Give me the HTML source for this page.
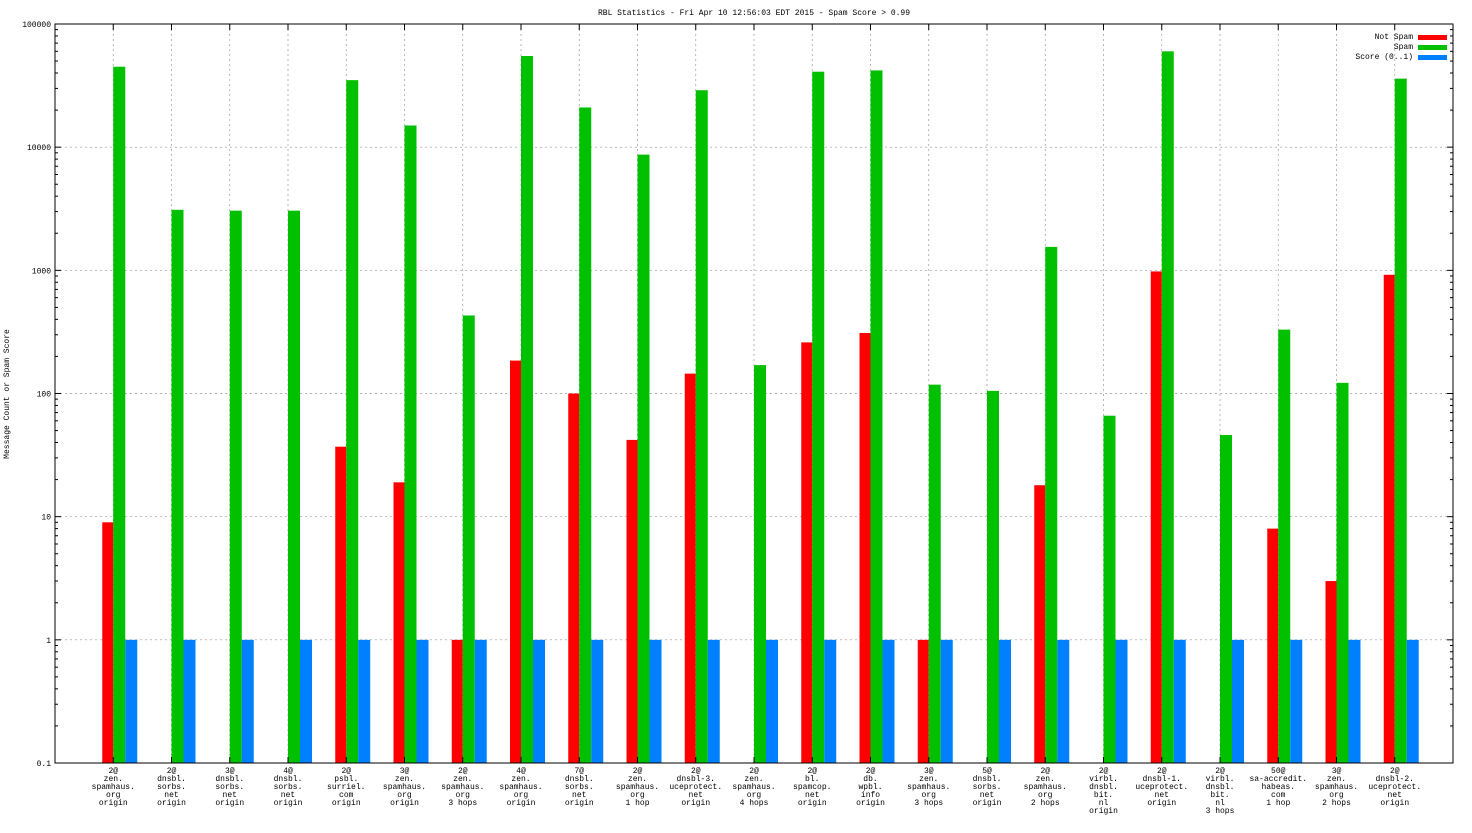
<!DOCTYPE html>
<html><head><meta charset="utf-8"><style>
body{margin:0;background:#fff}
svg text{font-family:"Liberation Mono",monospace;font-size:8px;fill:#000}
</style></head><body>
<svg id="chart" width="1472" height="828" xmlns="http://www.w3.org/2000/svg">
<rect width="1472" height="828" fill="#fff"/>
<text x="754" y="15" text-anchor="middle">RBL Statistics - Fri Apr 10 12:56:03 EDT 2015 - Spam Score &gt; 0.99</text>
<text transform="translate(9,394) rotate(-90)" text-anchor="middle">Message Count or Spam Score</text>
<g id="grid"></g><g id="bars"></g><g id="axes"></g>
<g>
<text x="1413" y="39" text-anchor="end">Not Spam</text><rect x="1418" y="35" width="29" height="5" fill="#ff0000"/>
<text x="1413" y="49" text-anchor="end">Spam</text><rect x="1418" y="45" width="29" height="5" fill="#00c000"/>
<text x="1413" y="59" text-anchor="end">Score (0..1)</text><rect x="1418" y="55" width="29" height="5" fill="#0080ff"/>
</g>
</svg>
<script>
const categories=[["2@","zen.","spamhaus.","org","origin"],["2@","dnsbl.","sorbs.","net","origin"],["3@","dnsbl.","sorbs.","net","origin"],["4@","dnsbl.","sorbs.","net","origin"],["2@","psbl.","surriel.","com","origin"],["3@","zen.","spamhaus.","org","origin"],["2@","zen.","spamhaus.","org","3 hops"],["4@","zen.","spamhaus.","org","origin"],["7@","dnsbl.","sorbs.","net","origin"],["2@","zen.","spamhaus.","org","1 hop"],["2@","dnsbl-3.","uceprotect.","net","origin"],["2@","zen.","spamhaus.","org","4 hops"],["2@","bl.","spamcop.","net","origin"],["2@","db.","wpbl.","info","origin"],["3@","zen.","spamhaus.","org","3 hops"],["5@","dnsbl.","sorbs.","net","origin"],["2@","zen.","spamhaus.","org","2 hops"],["2@","virbl.","dnsbl.","bit.","nl","origin"],["2@","dnsbl-1.","uceprotect.","net","origin"],["2@","virbl.","dnsbl.","bit.","nl","3 hops"],["50@","sa-accredit.","habeas.","com","1 hop"],["3@","zen.","spamhaus.","org","2 hops"],["2@","dnsbl-2.","uceprotect.","net","origin"]];
const notSpam=[9,0,0,0,37,19,1,185,100,42,145,0,260,310,1,0,18,0,980,0,8,3,920];
const spam=[45000,3100,3050,3050,35000,15000,430,55000,21000,8700,29000,170,41000,42000,118,105,1550,66,60000,46,330,122,36000];
const score=[1,1,1,1,1,1,1,1,1,1,1,1,1,1,1,1,1,1,1,1,1,1,1];
const yTicks=["0.1","1","10","100","1000","10000","100000"];
const L=55,R=1453,T=24,B=763,NS="http://www.w3.org/2000/svg";
const y=v=>B-(Math.log10(v)+1)/6*(B-T);
const x=i=>L+(R-L)/(categories.length+1)*(i+1);
function mk(p,t,a){const e=document.createElementNS(NS,t);for(const k in a)e.setAttribute(k,a[k]);p.appendChild(e);return e;}
const g=document.getElementById('grid'),b=document.getElementById('bars'),ax=document.getElementById('axes');
yTicks.forEach((t,k)=>{const v=parseFloat(t),yy=y(v);
 if(k>0&&k<yTicks.length-1){const l=mk(g,'line',{x1:L,x2:R,y1:yy,y2:yy,stroke:'#999','stroke-dasharray':'2,3','stroke-width':0.7});
 
 }
 const tx=mk(ax,'text',{x:L-4,y:yy+3,'text-anchor':'end'});tx.textContent=t;
 
 
 mk(ax,'line',{x1:L,x2:L+6,y1:yy,y2:yy,stroke:'#000'});mk(ax,'line',{x1:R,x2:R-6,y1:yy,y2:yy,stroke:'#000'});
 if(k<yTicks.length-1)for(let m=2;m<10;m++){const my=y(v*m);mk(ax,'line',{x1:L,x2:L+3,y1:my,y2:my,stroke:'#000'});mk(ax,'line',{x1:R,x2:R-3,y1:my,y2:my,stroke:'#000'});}
});
const series=[[notSpam,'#ff0000',-11,11,'bar-not-spam'],[spam,'#00c000',0,12,'bar-spam'],[score,'#0080ff',12,12,'bar-score']];
categories.forEach((c,i)=>{const cx=x(i);
 const gl=mk(g,'line',{x1:cx,x2:cx,y1:T,y2:B,stroke:'#999','stroke-dasharray':'2,3','stroke-width':0.7});
 
 
 series.forEach(s=>{const v=s[0][i];if(v>0){const r=mk(b,'rect',{x:cx+s[2],y:y(v),width:s[3],height:B-y(v),fill:s[1]});
 
 }});
 mk(ax,'line',{x1:cx,x2:cx,y1:B,y2:B-6,stroke:'#000'});mk(ax,'line',{x1:cx,x2:cx,y1:T,y2:T+6,stroke:'#000'});
 c.forEach((ln,j)=>{const t=mk(ax,'text',{x:cx,y:773+j*8,'text-anchor':'middle'});t.textContent=ln;
 
 });
});
const fr=mk(ax,'rect',{x:L,y:T,width:R-L,height:B-T,fill:'none',stroke:'#000'});


</script>
</body></html>
